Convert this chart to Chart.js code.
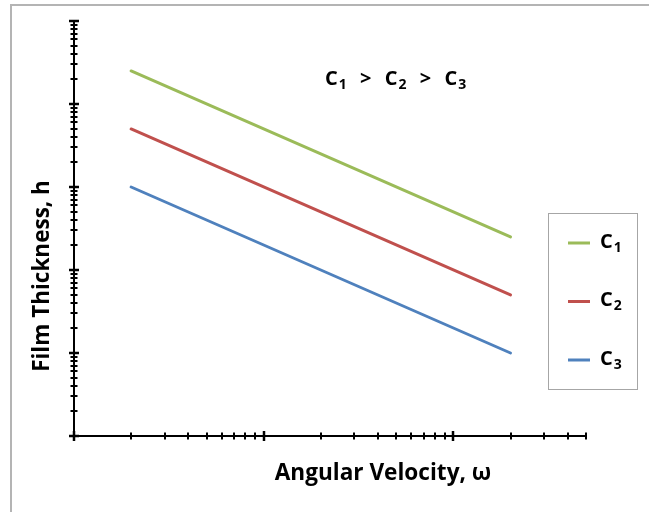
<!DOCTYPE html>
<html>
<head>
<meta charset="utf-8">
<script src="https://cdn.jsdelivr.net/npm/chart.js@4.4.0/dist/chart.umd.min.js"></script>
<style>
  html, body { margin: 0; padding: 0; background: #fff; }
  #wrap { width: 649px; height: 512px; position: relative; }
</style>
</head>
<body>
<div id="wrap"><canvas id="chart" width="649" height="512"></canvas></div>
<script>
// data (log-log, no tick labels shown)
const omega = [2, 200];
const c1 = [25000, 250];
const c2 = [5000, 50];
const c3 = [1000, 10];
const seriesLabels = ["C1", "C2", "C3"];
const seriesColors = ["#9BBB59", "#C0504D", "#4F81BD"];

const xMajor = [1, 10, 100];
const yMajor = [1, 10, 100, 1000, 10000, 100000];
const minorSteps = [2, 3, 4, 5, 6, 7, 8, 9];
const xMax = 500;
const yMax = 100000;

const xTitle = "Angular Velocity, \u03c9";
const yTitle = "Film Thickness, h";

const FONT = "'Open Sans', Lato, sans-serif";

function tickList(majors, max) {
  let out = [];
  majors.forEach(function (m) {
    out.push({ v: m, major: true });
    minorSteps.forEach(function (s) {
      if (m * s <= max) out.push({ v: m * s, major: false });
    });
  });
  return out;
}

// pick a bold font size so the text spans the given width
function fitFont(ctx, text, width) {
  ctx.font = "bold 20px " + FONT;
  let size = 20 * width / ctx.measureText(text).width;
  return "bold " + size.toFixed(1) + "px " + FONT;
}

// draws "C" with a subscript digit, returns width
function drawSub(ctx, text, x, y, size) {
  let base = text.slice(0, -1);
  let sub = text.slice(-1);
  ctx.font = "bold " + size + "px " + FONT;
  ctx.textAlign = "left";
  ctx.textBaseline = "middle";
  ctx.fillText(base, x, y);
  let w = ctx.measureText(base).width;
  ctx.font = "bold " + Math.round(size * 0.72) + "px " + FONT;
  ctx.fillText(sub, x + w + 1, y + size * 0.3);
  return w + 1 + ctx.measureText(sub).width;
}

const decorPlugin = {
  id: "decor",
  beforeDraw: function (chart) {
    let ctx = chart.ctx;
    ctx.save();
    ctx.fillStyle = "#fff";
    ctx.fillRect(0, 0, chart.width, chart.height);
    // outer frame (top and left only visible)
    ctx.strokeStyle = "#b4b4b4";
    ctx.lineWidth = 2;
    ctx.beginPath();
    ctx.moveTo(11, chart.height);
    ctx.lineTo(11, 5);
    ctx.lineTo(chart.width, 5);
    ctx.stroke();
    ctx.restore();
  },
  afterDraw: function (chart) {
    let ctx = chart.ctx;
    let a = chart.chartArea;
    let xs = chart.scales.x;
    let ys = chart.scales.y;
    ctx.save();
    ctx.strokeStyle = "#000";
    ctx.fillStyle = "#000";

    // axes
    ctx.lineWidth = 2;
    ctx.beginPath();
    ctx.moveTo(a.left, a.top);
    ctx.lineTo(a.left, a.bottom);
    ctx.lineTo(a.right, a.bottom);
    ctx.stroke();

    // ticks crossing the axes
    tickList(xMajor, xMax).forEach(function (t) {
      let px = Math.round(xs.getPixelForValue(t.v));
      let h = t.major ? 5 : 3.5;
      ctx.lineWidth = t.major ? 2.5 : 2;
      ctx.beginPath();
      ctx.moveTo(px, a.bottom - h);
      ctx.lineTo(px, a.bottom + h);
      ctx.stroke();
    });
    tickList(yMajor, yMax).forEach(function (t) {
      let py = Math.round(ys.getPixelForValue(t.v));
      let w = t.major ? 5 : 3.5;
      ctx.lineWidth = t.major ? 2.5 : 2;
      ctx.beginPath();
      ctx.moveTo(a.left - w, py);
      ctx.lineTo(a.left + w, py);
      ctx.stroke();
    });

    // axis titles
    ctx.textAlign = "center";
    ctx.textBaseline = "middle";
    ctx.font = fitFont(ctx, xTitle, 217);
    ctx.fillText(xTitle, 383, 474);
    ctx.save();
    ctx.translate(43, 276);
    ctx.rotate(-Math.PI / 2);
    ctx.font = fitFont(ctx, yTitle, 192);
    ctx.fillText(yTitle, 0, 0);
    ctx.restore();

    // annotation C1 > C2 > C3
    let x = 325;
    let y = 79;
    seriesLabels.forEach(function (lbl, i) {
      x += drawSub(ctx, lbl, x, y, 20);
      if (i < seriesLabels.length - 1) {
        ctx.font = "bold 20px " + FONT;
        ctx.textAlign = "center";
        ctx.fillText(">", x + 19, y);
        x += 38;
      }
    });

    // legend box
    ctx.strokeStyle = "#a6a6a6";
    ctx.lineWidth = 1;
    ctx.strokeRect(548.5, 213.5, 89, 176);
    seriesLabels.forEach(function (lbl, i) {
      let ly = 243 + i * 58.5;
      ctx.strokeStyle = seriesColors[i];
      ctx.lineWidth = 3;
      ctx.beginPath();
      ctx.moveTo(568, ly);
      ctx.lineTo(590, ly);
      ctx.stroke();
      ctx.fillStyle = "#000";
      drawSub(ctx, lbl, 600, ly - 1, 20);
    });
    ctx.restore();
  },
};

let ctx = document.getElementById("chart").getContext("2d");

let config = {
  type: "line",
  data: {
    datasets: [
      { label: seriesLabels[0], data: omega.map((w, i) => ({ x: w, y: c1[i] })) },
      { label: seriesLabels[1], data: omega.map((w, i) => ({ x: w, y: c2[i] })) },
      { label: seriesLabels[2], data: omega.map((w, i) => ({ x: w, y: c3[i] })) },
    ].map(function (ds, i) {
      ds.borderColor = seriesColors[i];
      ds.backgroundColor = seriesColors[i];
      ds.borderWidth = 3;
      ds.pointRadius = 0;
      ds.tension = 0;
      ds.borderCapStyle = "round";
      return ds;
    }),
  },
  options: {
    responsive: false,
    animation: false,
    layout: { padding: { left: 74, right: 63, top: 21, bottom: 76 } },
    plugins: {
      legend: { display: false },
      tooltip: { enabled: false },
    },
    scales: {
      x: { type: "logarithmic", min: 1, max: xMax, display: false },
      y: { type: "logarithmic", min: 1, max: yMax, display: false },
    },
  },
  plugins: [decorPlugin],
};

new Chart(ctx, config);
</script>
</body>
</html>
